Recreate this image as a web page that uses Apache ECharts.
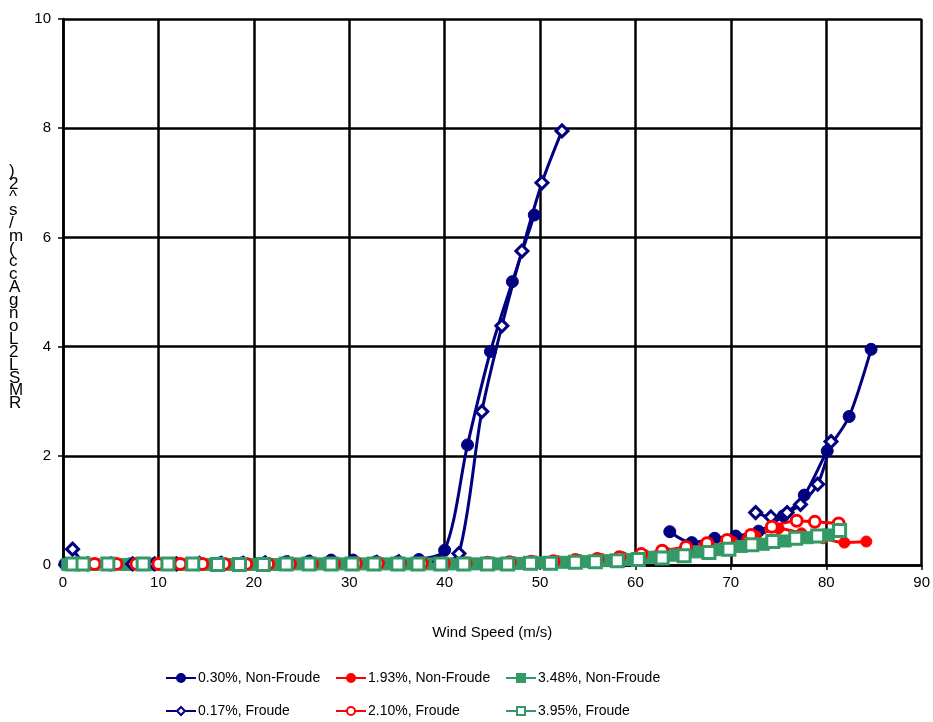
<!DOCTYPE html>
<html>
<head>
<meta charset="utf-8">
<script src="https://cdn.jsdelivr.net/npm/echarts@6/dist/echarts.min.js"></script>
<style>
  html, body { margin:0; padding:0; background:#fff; }
  #chart { width:933px; height:722px; }
</style>
</head>
<body>
<div id="chart"></div>
<script>
// eixos
const xTicks = [0, 10, 20, 30, 40, 50, 60, 70, 80, 90];
const yTicks = [0, 2, 4, 6, 8, 10];
const yLabelChars = [')', '2', '^', 's', '/', 'm', '(', 'c', 'c', 'A', 'g', 'n', 'o', 'L', '2', 'L', 'S', 'M', 'R'];

// 0.30%, Non-Froude (dois trechos)
const nf030X  = [0.2, 2.5, 4.8, 7.0, 9.4, 11.8, 14.1, 16.5, 18.8, 21.1, 23.4, 25.8, 28.1, 30.4, 32.8, 35.1, 37.3, 40.0, 42.4, 44.8, 47.1, 49.4];
const nf030Y  = [0.02, 0.01, 0.01, 0.02, 0.02, 0.03, 0.03, 0.04, 0.04, 0.04, 0.06, 0.07, 0.09, 0.09, 0.06, 0.06, 0.10, 0.27, 2.20, 3.91, 5.19, 6.41];
const nf030bX = [63.6, 65.9, 68.3, 70.5, 72.9, 75.5, 77.7, 80.1, 82.4, 84.7];
const nf030bY = [0.61, 0.41, 0.49, 0.53, 0.62, 0.90, 1.28, 2.09, 2.72, 3.95];

// 1.93%, Non-Froude
const nf193X = [1.2, 3.5, 5.8, 8.1, 10.4, 12.7, 15.0, 17.3, 19.6, 21.9, 24.2, 26.5, 28.8, 31.1, 33.4, 35.7, 38.0, 40.3, 42.6, 44.9, 47.2, 49.5, 51.8, 54.1, 56.4, 58.7, 61.0, 63.3, 65.6, 67.9, 70.2, 72.6, 75.0, 77.4, 79.7, 81.9, 84.2];
const nf193Y = [0.02, 0.02, 0.02, 0.02, 0.02, 0.02, 0.02, 0.02, 0.02, 0.02, 0.02, 0.02, 0.03, 0.03, 0.03, 0.03, 0.03, 0.03, 0.04, 0.04, 0.05, 0.06, 0.07, 0.09, 0.11, 0.14, 0.18, 0.22, 0.28, 0.34, 0.42, 0.53, 0.67, 0.58, 0.49, 0.41, 0.43];

// 3.48%, Non-Froude
const nf348X = [0.5, 3.2, 6.5, 9.6, 12.3, 15.0, 17.5, 20.0, 22.4, 24.8, 27.1, 29.3, 31.6, 34.0, 36.3, 38.5, 41.0, 43.3, 45.6, 47.9, 50.2, 52.5, 54.8, 57.0, 59.3, 61.6, 64.0, 66.4, 68.8, 71.1, 73.4, 75.7, 78.0, 80.2];
const nf348Y = [0.01, 0.01, 0.01, 0.01, 0.01, 0.01, 0.01, 0.01, 0.01, 0.02, 0.02, 0.02, 0.02, 0.02, 0.02, 0.02, 0.02, 0.02, 0.02, 0.03, 0.04, 0.05, 0.06, 0.08, 0.10, 0.14, 0.18, 0.24, 0.28, 0.34, 0.38, 0.44, 0.50, 0.55];

// 0.17%, Froude (dois trechos)
const f017X  = [1.0, 2.6, 5.0, 7.3, 9.6, 11.9, 14.3, 16.6, 18.9, 21.2, 23.6, 25.9, 28.2, 30.5, 32.9, 35.2, 37.5, 39.5, 41.5, 43.9, 46.0, 48.1, 50.2, 52.3];
const f017Y  = [0.29, 0.02, 0.02, 0.02, 0.02, 0.02, 0.03, 0.03, 0.03, 0.04, 0.04, 0.05, 0.05, 0.05, 0.05, 0.06, 0.06, 0.06, 0.21, 2.81, 4.38, 5.75, 7.00, 7.95];
const f017bX = [72.6, 74.2, 75.9, 77.3, 79.1, 80.5];
const f017bY = [0.96, 0.88, 0.96, 1.11, 1.48, 2.26];

// 2.10%, Froude
const f210X = [1.0, 3.3, 5.6, 7.7, 10.0, 12.3, 14.6, 16.9, 19.2, 21.5, 23.8, 26.1, 28.4, 30.7, 33.0, 35.3, 37.6, 39.9, 42.2, 44.5, 46.8, 49.1, 51.4, 53.7, 56.0, 58.3, 60.6, 62.8, 65.3, 67.5, 69.6, 72.1, 74.3, 76.9, 78.8, 81.3];
const f210Y = [0.02, 0.02, 0.02, 0.02, 0.02, 0.02, 0.02, 0.02, 0.02, 0.02, 0.02, 0.02, 0.02, 0.03, 0.03, 0.03, 0.03, 0.03, 0.03, 0.04, 0.05, 0.06, 0.07, 0.09, 0.11, 0.14, 0.20, 0.26, 0.33, 0.40, 0.46, 0.55, 0.70, 0.81, 0.79, 0.76];

// 3.95%, Froude
const f395X = [1.0, 2.1, 4.7, 8.4, 11.0, 13.6, 16.2, 18.5, 21.0, 23.4, 25.8, 28.1, 30.3, 32.6, 35.1, 37.2, 39.6, 42.0, 44.5, 46.6, 49.0, 51.1, 53.7, 55.8, 58.1, 60.3, 62.8, 65.1, 67.7, 69.8, 72.2, 74.4, 76.8, 79.1, 81.4];
const f395Y = [0.02, 0.02, 0.02, 0.02, 0.02, 0.02, 0.01, 0.01, 0.01, 0.02, 0.02, 0.02, 0.02, 0.02, 0.02, 0.02, 0.02, 0.02, 0.02, 0.02, 0.03, 0.03, 0.05, 0.06, 0.08, 0.10, 0.13, 0.17, 0.23, 0.29, 0.37, 0.43, 0.49, 0.53, 0.63];

const NAVY = '#000080', RED = '#ff0000', GREEN = '#339966';
const FONT = 'Liberation Sans, Arial, sans-serif';

const zip = (xs, ys) => xs.map((x, i) => [x, ys[i]]);

function mkSeries(name, xs, ys, color, symbol, open, size) {
  return {
    name, type: 'line', smooth: 0.3,
    data: zip(xs, ys),
    symbol, symbolSize: size,
    showSymbol: true,
    lineStyle: { color, width: 3 },
    itemStyle: { color: open ? '#fff' : color, borderColor: color, borderWidth: open ? 3 : 1 },
    emphasis: { disabled: true },
    animation: false
  };
}

const series = [
  mkSeries('0.30%, Non-Froude', nf030X, nf030Y, NAVY, 'circle', false, 12),
  mkSeries('0.30%b', nf030bX, nf030bY, NAVY, 'circle', false, 12),
  mkSeries('1.93%, Non-Froude', nf193X, nf193Y, RED, 'circle', false, 11),
  mkSeries('3.48%, Non-Froude', nf348X, nf348Y, GREEN, 'rect', false, 12),
  mkSeries('0.17%, Froude', f017X, f017Y, NAVY, 'diamond', true, 12),
  mkSeries('0.17%b', f017bX, f017bY, NAVY, 'diamond', true, 12),
  mkSeries('2.10%, Froude', f210X, f210Y, RED, 'circle', true, 11),
  mkSeries('3.95%, Froude', f395X, f395Y, GREEN, 'rect', true, 12)
];

// legenda: 2 linhas x 3 colunas, cada item posicionado
const legPos = [
  ['0.30%, Non-Froude', 165, 671], ['1.93%, Non-Froude', 335, 671], ['3.48%, Non-Froude', 505, 671],
  ['0.17%, Froude', 165, 704],     ['2.10%, Froude', 335, 704],     ['3.95%, Froude', 505, 704]
];
const legends = legPos.map(([n, l, t]) => ({
  data: [n], left: l, top: t,
  itemWidth: 30, itemHeight: 10, itemGap: 2,
  selectedMode: false, padding: 0,
  textStyle: { fontFamily: FONT, fontSize: 14, color: '#000', padding: [0, 0, 0, -3] }
}));

const chart = echarts.init(document.getElementById('chart'), null, { renderer: 'canvas' });
chart.setOption({
  backgroundColor: '#fff',
  animation: false,
  grid: { left: 63, right: 11, top: 19, bottom: 157 },
  legend: legends,
  xAxis: {
    type: 'value', min: xTicks[0], max: xTicks[xTicks.length - 1], interval: 10,
    name: 'Wind Speed (m/s)', nameLocation: 'middle', nameGap: 60,
    nameTextStyle: { fontFamily: FONT, fontSize: 15, color: '#000' },
    axisLine: { lineStyle: { color: '#000', width: 2.5 } },
    axisTick: { show: true, length: 5, lineStyle: { color: '#000', width: 1.5 } },
    axisLabel: { fontFamily: FONT, fontSize: 15, color: '#000', margin: 10 },
    splitLine: { show: true, lineStyle: { color: '#000', width: 2.5 } }
  },
  yAxis: {
    type: 'value', min: yTicks[0], max: yTicks[yTicks.length - 1], interval: 2,
    axisLine: { show: true, lineStyle: { color: '#000', width: 2.5 } },
    axisTick: { show: true, length: 5, lineStyle: { color: '#000', width: 1.5 } },
    axisLabel: { fontFamily: FONT, fontSize: 15, color: '#000', margin: 12 },
    splitLine: { show: true, lineStyle: { color: '#000', width: 2.5 } }
  },
  graphic: [{
    type: 'text', left: 9, top: 163,
    style: {
      text: yLabelChars.join('\n'),
      font: '17px ' + FONT, fill: '#000',
      lineHeight: 12.9, align: 'left'
    }
  }],
  series
});
</script>
</body>
</html>
